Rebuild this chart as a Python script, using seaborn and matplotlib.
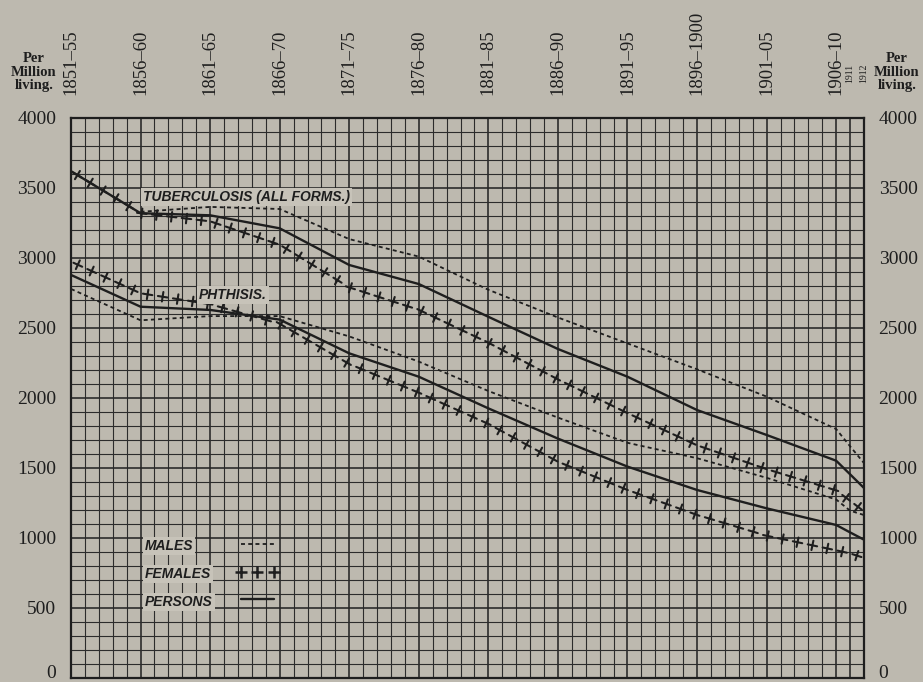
import matplotlib
matplotlib.use("Agg")
import matplotlib.pyplot as plt
import numpy as np
import pandas as pd
import seaborn as sns
from matplotlib import patheffects as pe
from matplotlib.lines import Line2D
from matplotlib.ticker import MultipleLocator

# period labels along the top, plotted at the closing year of each period
periods = ["1851–55", "1856–60", "1861–65", "1866–70", "1871–75", "1876–80",
           "1881–85", "1886–90", "1891–95", "1896–1900", "1901–05", "1906–10",
           "1911", "1912"]
years = [1855, 1860, 1865, 1870, 1875, 1880, 1885, 1890, 1895, 1900, 1905,
         1910, 1911, 1912]

# death rates per million living
tb_males = [np.nan, 3330, 3365, 3350, 3135, 3010, 2773, 2575, 2390, 2205,
            2010, 1778, 1655, 1535]
tb_persons = [3620, 3320, 3305, 3212, 2950, 2814, 2580, 2350, 2152, 1914,
              1736, 1552, 1455, 1357]
tb_females = [3620, 3320, 3262, 3095, 2790, 2630, 2395, 2133, 1892, 1662,
              1492, 1340, 1266, 1190]
ph_males = [2779, 2555, 2585, 2585, 2440, 2260, 2050, 1860, 1680, 1570,
            1430, 1275, 1195, 1164]
ph_persons = [2879, 2652, 2629, 2560, 2319, 2152, 1926, 1710, 1510, 1343,
              1212, 1093, 1040, 988]
ph_females = [2974, 2748, 2670, 2530, 2243, 2038, 1815, 1545, 1343, 1165,
              1016, 912, 890, 858]

y_ticks = [0, 500, 1000, 1500, 2000, 2500, 3000, 3500, 4000]
sexes = ["MALES", "FEMALES", "PERSONS"]

paper = "#bdb9af"
paper_light = "#c7c3b9"
ink = "#1e1e1e"

rows = []
for disease, series in [("tb", [tb_males, tb_females, tb_persons]),
                        ("ph", [ph_males, ph_females, ph_persons])]:
    for sex, vals in zip(sexes[:2] + ["PERSONS"], series):
        for yr, v in zip(years, vals):
            rows.append({"disease": disease, "sex": sex, "year": yr, "rate": v})
df = pd.DataFrame(rows).dropna()

sns.set_theme(style="white", rc={"figure.facecolor": paper, "axes.facecolor": paper})
plt.rcParams["font.family"] = ["Liberation Serif", "DejaVu Serif"]

fig = plt.figure(figsize=(9.23, 6.82), dpi=100)
ax = fig.add_axes([71 / 923, 4 / 682, 793 / 923, 560 / 682])

# females: a row of small crosses laid along the line, no stroke of its own
crosses = [pe.TickedStroke(spacing=10.8, angle=a, length=0.32) for a in (0, 90, 180, -90)]
styles = {
    "MALES": dict(color=ink, lw=1.3, linestyle=(0, (2.2, 1.8))),
    "FEMALES": dict(color=ink, lw=1.5, linestyle="-", path_effects=crosses),
    "PERSONS": dict(color=ink, lw=1.7, linestyle="-"),
}

for (disease, sex), sub in df.groupby(["disease", "sex"]):
    sns.lineplot(data=sub, x="year", y="rate", ax=ax, estimator=None,
                 errorbar=None, sort=True, **styles[sex])

ax.set_xlim(years[0], years[-1])
ax.set_ylim(0, 4000)
ax.set_xlabel("")
ax.set_ylabel("")

# grid: one column per year, one row per 100
ax.set_xticks(years)
ax.set_xticklabels(periods)
ax.xaxis.set_minor_locator(MultipleLocator(1))
ax.set_yticks(y_ticks)
ax.yaxis.set_minor_locator(MultipleLocator(100))
ax.grid(which="major", color="#262626", lw=1.15)
ax.grid(which="minor", color="#2c2c2c", lw=0.8)
ax.set_axisbelow(True)
for s in ax.spines.values():
    s.set_color(ink)
    s.set_linewidth(1.6)

ax.xaxis.tick_top()
ax.tick_params(axis="x", which="both", length=0, pad=16.5, labelsize=13.5,
               labelrotation=90, colors=ink)
ax.tick_params(axis="y", which="both", length=0, pad=10.5, labelsize=14,
               labelleft=True, labelright=True, colors=ink)
for t in ax.xaxis.get_major_ticks()[-2:]:
    t.label2.set_fontsize(7)
    t.set_pad(25)
zero = ax.yaxis.get_major_ticks()[0]
zero.label1.set_va("baseline")
zero.label2.set_va("baseline")

for xpos in (34 / 923, 897 / 923):
    fig.text(xpos, 1 - 72 / 682, "Per\nMillion\nliving.", ha="center", va="center",
             fontsize=10.5, fontweight="bold", linespacing=1.0, color=ink)

lab = dict(family=["Liberation Sans", "DejaVu Sans"], fontweight="bold",
           fontstyle="italic", fontsize=10, color=ink, va="center", ha="left",
           bbox=dict(boxstyle="square,pad=0.15", fc=paper_light, ec="none"))
ax.text(1860.2, 3438, "TUBERCULOSIS (ALL FORMS.)", **lab)
ax.text(1864.2, 2736, "PHTHISIS.", **lab)

for i, sex in enumerate(sexes):
    ax.text(0.093, 0.236 - i * 0.05, sex, transform=ax.transAxes, **lab)

handles = [
    Line2D([], [], color=ink, lw=1.3, linestyle=(0, (2.2, 1.8))),
    Line2D([], [], color=ink, linestyle="none", marker="+", markersize=9,
           markeredgewidth=1.8, markeredgecolor=ink),
    Line2D([], [], color=ink, lw=1.7),
]
leg = ax.legend(handles, ["", "", ""], loc="upper left",
                bbox_to_anchor=(0.209, 0.248), frameon=False, borderpad=0,
                borderaxespad=0, handlelength=2.95, handletextpad=0,
                labelspacing=1.04, fontsize=10, numpoints=3)

fig.savefig("out.png", dpi=100, facecolor=paper)
